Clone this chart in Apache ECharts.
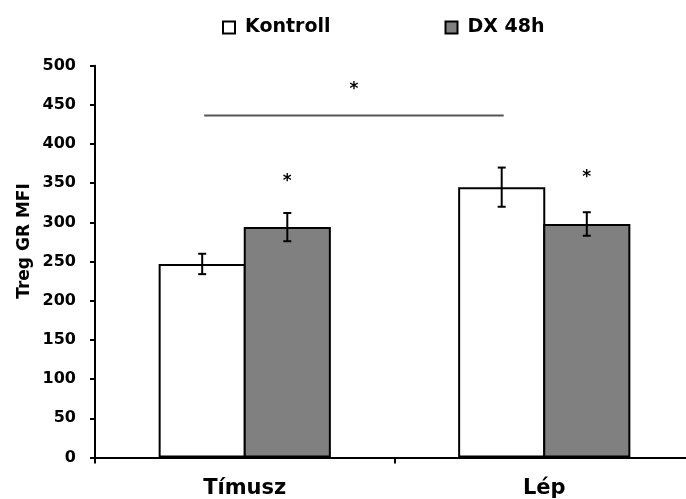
<!DOCTYPE html>
<html>
<head>
<meta charset="utf-8">
<script src="https://cdn.jsdelivr.net/npm/echarts@6/dist/echarts.min.js"></script>
<style>
  html, body { margin: 0; padding: 0; background: #fff; }
  #chart { width: 686px; height: 499px; }
</style>
</head>
<body>
<div id="chart"></div>
<script>
// Categories and group means (Treg GR MFI)
const categories = ['Tímusz', 'Lép'];
const seriesNames = ['Kontroll', 'DX 48h'];
const kontroll = [247, 345];
const dx48 = [294, 298];
// Error bar half-lengths
const kontrollErr = [13, 25];
const dxErr = [18, 15];
// Significance stars: [category index, series index, y value]
const stars = [[0, 1, 352.5], [1, 1, 357.5]];
// Bracket between Tímusz Kontroll and Lép Kontroll: [cat A, series A, cat B, series B, line y, star y]
const bracket = [[0, 0, 1, 0, 436.5, 469]];
const yTicks = { min: 0, max: 500, interval: 50 };

const FONT = 'DejaVu Sans';
const GAP = 0.425;  // barCategoryGap as fraction
const BG = -0.023;  // slight overlap so neighbouring bars share one edge

// x pixel centre of a bar within its category
function barX(api, cat, s) {
  const c = api.coord([cat, 0])[0];
  const band = api.size([1, 0])[0];
  const bw = band * (1 - GAP) / (2 + BG);
  const x0 = c - bw * (2 + BG) / 2 + bw / 2;
  return s === 0 ? x0 : x0 + bw * (1 + BG);
}

const errData = [];
kontroll.forEach((v, i) => errData.push([i, v, kontrollErr[i], 0]));
dx48.forEach((v, i) => errData.push([i, v, dxErr[i], 1]));

const chart = echarts.init(document.getElementById('chart'), null, { renderer: 'canvas' });
chart.setOption({
  animation: false,
  backgroundColor: '#fff',
  grid: { left: 95, width: 599, top: 65.7, height: 391.8, containLabel: false, outerBoundsMode: 'none' },
  legend: {
    left: 222,
    top: 18,
    padding: 0,
    itemWidth: 12,
    itemHeight: 12,
    itemGap: 114,
    icon: 'rect',
    data: seriesNames,
    itemStyle: { borderColor: '#000', borderWidth: 2 },
    textStyle: { fontFamily: FONT, fontWeight: 'bold', fontSize: 19, color: '#000', padding: [0, 0, 0, 5] }
  },
  xAxis: {
    type: 'category',
    data: categories,
    axisLine: { lineStyle: { color: '#000', width: 2 } },
    axisTick: { show: true, length: 6, lineStyle: { color: '#000', width: 2 } },
    axisLabel: { fontFamily: FONT, fontWeight: 'bold', fontSize: 21, color: '#000', margin: 21 },
    splitLine: { show: false }
  },
  yAxis: {
    type: 'value',
    min: yTicks.min, max: yTicks.max, interval: yTicks.interval,
    axisLine: { show: true, lineStyle: { color: '#000', width: 2 } },
    axisTick: { show: true, length: 5, lineStyle: { color: '#000', width: 2 } },
    axisLabel: { fontFamily: FONT, fontWeight: 'bold', fontSize: 16, color: '#000', margin: 19 },
    splitLine: { show: false }
  },
  graphic: [{
    type: 'text',
    x: 25, y: 241,
    rotation: Math.PI / 2,
    style: {
      text: 'Treg GR MFI',
      font: 'bold 17px "DejaVu Sans"',
      fill: '#000',
      align: 'center',
      verticalAlign: 'middle'
    }
  }],
  series: [
    {
      name: seriesNames[0], type: 'bar', data: kontroll,
      barGap: (BG * 100) + '%', barCategoryGap: (GAP * 100) + '%',
      itemStyle: { color: '#fff', borderColor: '#000', borderWidth: 2 }
    },
    {
      name: seriesNames[1], type: 'bar', data: dx48,
      barGap: (BG * 100) + '%', barCategoryGap: (GAP * 100) + '%',
      itemStyle: { color: '#808080', borderColor: '#000', borderWidth: 2 }
    },
    {
      type: 'custom', name: 'err', data: errData, z: 5, clip: false,
      renderItem: function (params, api) {
        const cat = api.value(0), v = api.value(1), e = api.value(2), s = api.value(3);
        const x = barX(api, cat, s);
        const yt = api.coord([cat, v + e])[1];
        const yb = api.coord([cat, v - e])[1];
        const st = { stroke: '#000', lineWidth: 2 };
        const cw = 4;
        return {
          type: 'group',
          children: [
            { type: 'line', shape: { x1: x, y1: yt, x2: x, y2: yb }, style: st },
            { type: 'line', shape: { x1: x - cw, y1: yt, x2: x + cw, y2: yt }, style: st },
            { type: 'line', shape: { x1: x - cw, y1: yb, x2: x + cw, y2: yb }, style: st }
          ]
        };
      }
    },
    {
      type: 'custom', name: 'stars', data: stars, z: 5, clip: false,
      renderItem: function (params, api) {
        const cat = api.value(0), s = api.value(1), y = api.value(2);
        const x = barX(api, cat, s);
        const py = api.coord([cat, y])[1];
        return {
          type: 'text',
          style: { x: x, y: py, text: '*', font: 'bold 17px "DejaVu Sans"', fill: '#000', align: 'center', verticalAlign: 'middle' }
        };
      }
    },
    {
      type: 'custom', name: 'bracket', data: bracket, z: 5, clip: false,
      renderItem: function (params, api) {
        const x1 = barX(api, api.value(0), api.value(1)) + 2;
        const x2 = barX(api, api.value(2), api.value(3)) + 2;
        const ly = api.coord([0, api.value(4)])[1];
        const sy = api.coord([0, api.value(5)])[1];
        return {
          type: 'group',
          children: [
            { type: 'line', shape: { x1: x1, y1: ly, x2: x2, y2: ly }, style: { stroke: '#555', lineWidth: 2 } },
            { type: 'text', style: { x: (x1 + x2) / 2, y: sy, text: '*', font: 'bold 17px "DejaVu Sans"', fill: '#000', align: 'center', verticalAlign: 'middle' } }
          ]
        };
      }
    }
  ]
});
</script>
</body>
</html>
